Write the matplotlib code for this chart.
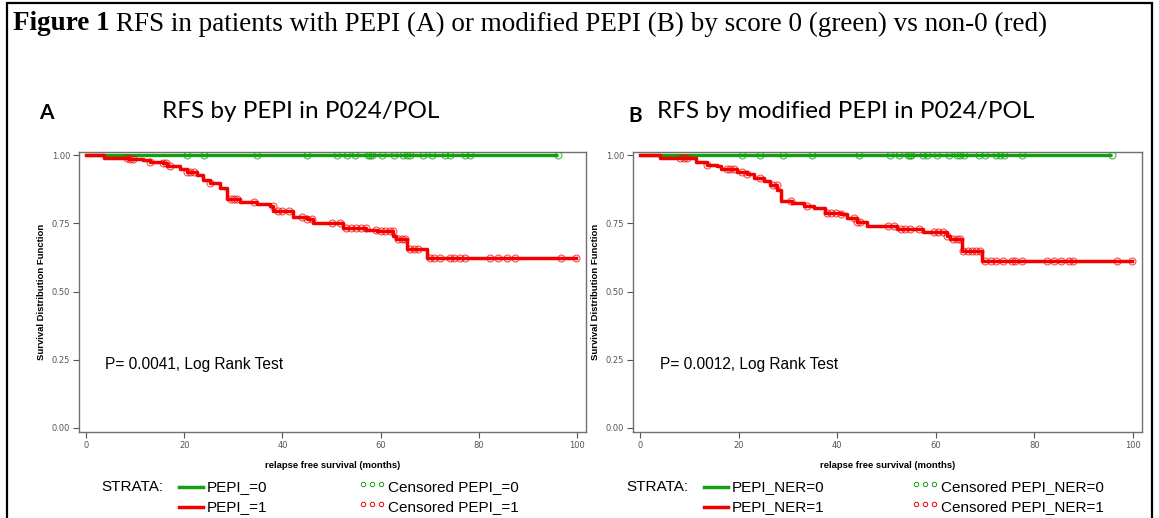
import numpy as np
from matplotlib import pyplot as plt
from matplotlib.lines import Line2D
from matplotlib.patches import Rectangle

#-------------------------------------------------------
# Data
#-------------------------------------------------------

# panel A: PEPI score, red = PEPI 1, green = PEPI 0
times_a = [0, 3.7, 8.6, 11.6, 13.0, 15.7, 16.5, 19.1, 20.5, 22.6, 23.8, 25.3,
           27.3, 28.7, 31.4, 34.8, 37.5, 38.1, 42.2, 44.9, 46.3, 52.4, 57.1,
           59.2, 62.6, 63.2, 65.3, 69.4]
surv_a = [1.0, 0.99, 0.986, 0.982, 0.974, 0.97, 0.96, 0.948, 0.938, 0.926,
          0.911, 0.899, 0.88, 0.838, 0.83, 0.82, 0.814, 0.795, 0.772, 0.765,
          0.753, 0.735, 0.727, 0.721, 0.705, 0.692, 0.656, 0.622]
end_red_a = 99.8
end_green_a = 96.2
cens_red_a = [8.3, 9.0, 9.6, 13.0, 15.7, 16.3, 17.0, 20.5, 21.2, 21.9, 25.3,
              29.5, 30.2, 30.8, 34.2, 38.0, 39.0, 40.0, 41.4, 44.0, 45.0, 46.0,
              50.0, 51.7, 53.0, 54.0, 55.0, 56.0, 57.0, 59.0, 60.0, 61.0, 62.0,
              62.5, 63.5, 64.3, 65.0, 66.0, 66.8, 67.6, 70.1, 71.0, 72.1, 74.1,
              75.0, 76.2, 77.2, 82.3, 83.9, 85.7, 87.4, 96.9, 99.8]
cens_green_a = [20.6, 24.0, 34.8, 45.1, 51.2, 53.1, 54.8, 57.4, 57.8, 58.2,
                60.2, 62.8, 64.6, 65.3, 66.0, 68.7, 70.4, 73.1, 74.1, 77.2,
                78.2, 96.2]

# panel B: modified PEPI (PEPI_NER)
times_b = [0, 3.9, 11.2, 13.6, 15.6, 16.3, 19.6, 21.7, 23.0, 25.1, 26.4, 27.8,
           28.5, 30.8, 33.2, 35.2, 37.6, 40.7, 42.0, 44.0, 46.1, 52.2, 57.5,
           62.3, 62.8, 65.4, 69.4]
surv_b = [1.0, 0.99, 0.974, 0.965, 0.96, 0.95, 0.937, 0.93, 0.917, 0.904,
          0.89, 0.874, 0.831, 0.825, 0.815, 0.807, 0.788, 0.786, 0.77, 0.757,
          0.742, 0.73, 0.718, 0.704, 0.692, 0.65, 0.613]
end_red_b = 99.9
end_green_b = 95.9
cens_red_b = [8.1, 8.8, 9.5, 13.6, 17.5, 18.2, 19.0, 20.7, 21.7, 24.4, 26.9,
              27.7, 30.5, 33.9, 37.9, 38.8, 39.7, 40.7, 43.3, 44.0, 44.7, 50.2,
              51.5, 53.0, 53.8, 54.7, 56.5, 59.6, 60.5, 61.4, 62.3, 63.6, 64.3,
              65.0, 65.6, 66.5, 67.3, 68.2, 69.0, 70.1, 71.3, 72.3, 73.6, 75.4,
              76.1, 77.6, 82.6, 84.0, 85.4, 87.1, 87.8, 96.9, 99.9]
cens_green_b = [20.7, 24.2, 29.0, 34.8, 44.4, 50.7, 52.5, 54.3, 54.7, 55.0,
                57.5, 58.3, 60.2, 62.6, 64.4, 65.0, 65.7, 68.7, 70.1, 72.2,
                73.0, 73.8, 77.6, 95.9]

x_ticks = [0, 20, 40, 60, 80, 100]
y_ticks = [0.0, 0.25, 0.5, 0.75, 1.0]

caption_bold = "Figure 1"
caption = "RFS in patients with PEPI (A) or modified PEPI (B) by score 0 (green) vs non-0 (red)"
titles = ["RFS by PEPI in P024/POL", "RFS by modified PEPI in P024/POL"]
letters = ["A", "B"]
p_texts = ["P= 0.0041, Log Rank Test", "P= 0.0012, Log Rank Test"]
strata_names = ["PEPI_", "PEPI_NER"]

GREEN = "#12a012"
RED = "#f50000"
SANS = "Liberation Sans"

#-------------------------------------------------------
# Drawing
#-------------------------------------------------------

W, H = 1159, 518


def fx(px):
    """ pixel x -> figure fraction """
    return px / W


def fy(py):
    """ pixel y (from top) -> figure fraction """
    return 1 - py / H


def surv_at(times, surv, t):
    """ value of the step curve at time t (for the censor marks) """
    idx = np.searchsorted(times, t, side="right") - 1
    return np.asarray(surv)[idx]


def draw_panel(ax, times, surv, end_red, end_green, cens_red, cens_green,
               p_text):
    # green group never had an event
    ax.plot([0, end_green], [1.0, 1.0], color=GREEN, lw=2.4,
            solid_capstyle="butt", zorder=2)
    ax.plot(cens_green, [1.0] * len(cens_green), "o", mfc="none",
            mec=GREEN, ms=5, mew=0.8, alpha=0.75, zorder=3)
    t = list(times) + [end_red]
    s = list(surv) + [surv[-1]]
    ax.step(t, s, where="post", color=RED, lw=2.5, zorder=4)
    ax.plot(cens_red, surv_at(times, surv, cens_red), "o", mfc="none",
            mec=RED, ms=5, mew=0.8, alpha=0.7, zorder=5)

    ax.set_xlim(-1.5, 101.9)
    ax.set_ylim(-0.015, 1.012)
    ax.set_xticks(x_ticks)
    ax.set_xticklabels([str(v) for v in x_ticks])
    ax.set_yticks(y_ticks)
    ax.set_yticklabels([f"{v:.2f}" for v in y_ticks])
    ax.tick_params(labelsize=6, colors="#555555", length=4, width=0.8,
                   pad=2.5)
    for sp in ax.spines.values():
        sp.set_color("#707070")
        sp.set_linewidth(1.0)
    ax.set_xlabel("relapse free survival (months)", fontsize=6.8,
                  fontweight="bold", family=SANS, labelpad=8)
    ax.set_ylabel("Survival Distribution Function", fontsize=6.8,
                  fontweight="bold", family=SANS, labelpad=4)
    ax.text(3.9, 0.234, p_text, fontsize=11.2, family=SANS, va="center",
            ha="left")


def draw_legend(fig, x0, name, cx):
    """ SAS-style strata legend below a panel, x0 = left pixel of STRATA: """
    fs = 11
    fig.text(fx(x0), fy(487), "STRATA:", fontsize=fs, family=SANS,
             va="center", ha="left")
    lx = x0 + 78
    for row, (col, val) in enumerate([(GREEN, 0), (RED, 1)]):
        yy = 487 + 20 * row
        fig.add_artist(Line2D([fx(lx), fx(lx + 24)], [fy(yy), fy(yy)],
                              color=col, lw=2.5))
        fig.text(fx(lx + 28), fy(yy), f"{name}={val}", fontsize=fs,
                 family=SANS, va="center", ha="left")
        fig.add_artist(Line2D([fx(cx), fx(cx + 9), fx(cx + 18)],
                              [fy(yy - 3)] * 3, ls="none", marker="o",
                              ms=3.2, mfc="none", mec=col, mew=0.7))
        fig.text(fx(cx + 25), fy(yy), f"Censored {name}={val}", fontsize=fs,
                 family=SANS, va="center", ha="left")


fig = plt.figure(figsize=(W / 100, H / 100), dpi=100)

# outer frame of the figure box
fig.add_artist(Rectangle((fx(7), fy(530)), fx(1152) - fx(7), fy(3) - fy(530),
                         fill=False, ec="black", lw=1.6))

# caption: bold lead followed by plain text
t_bold = fig.text(fx(13), fy(24), caption_bold, fontsize=19.5,
                  fontweight="bold", family="Liberation Serif",
                  va="center", ha="left")
renderer = fig.canvas.get_renderer()
bb = t_bold.get_window_extent(renderer)
fig.text(fx(bb.x1 + 6), fy(24), caption, fontsize=19.5,
         family="Liberation Serif", va="center", ha="left")

ax_a = fig.add_axes([fx(79), fy(432), fx(586) - fx(79), fy(152) - fy(432)])
ax_b = fig.add_axes([fx(633), fy(432), fx(1142) - fx(633), fy(152) - fy(432)])

draw_panel(ax_a, times_a, surv_a, end_red_a, end_green_a, cens_red_a,
           cens_green_a, p_texts[0])
draw_panel(ax_b, times_b, surv_b, end_red_b, end_green_b, cens_red_b,
           cens_green_b, p_texts[1])

# panel letters and titles
fig.text(fx(39), fy(113), letters[0], fontsize=15, fontweight="bold",
         family="Lato", va="center", ha="left")
fig.text(fx(301), fy(111), titles[0], fontsize=17.5, family="Lato",
         va="center", ha="center")
fig.text(fx(628), fy(116), letters[1], fontsize=15, fontweight="bold",
         family="Lato", va="center", ha="left")
fig.text(fx(846), fy(111), titles[1], fontsize=17.5, family="Lato",
         va="center", ha="center")

draw_legend(fig, 101, strata_names[0], 363)
draw_legend(fig, 626, strata_names[1], 916)

fig.savefig("out.png", dpi=100)
